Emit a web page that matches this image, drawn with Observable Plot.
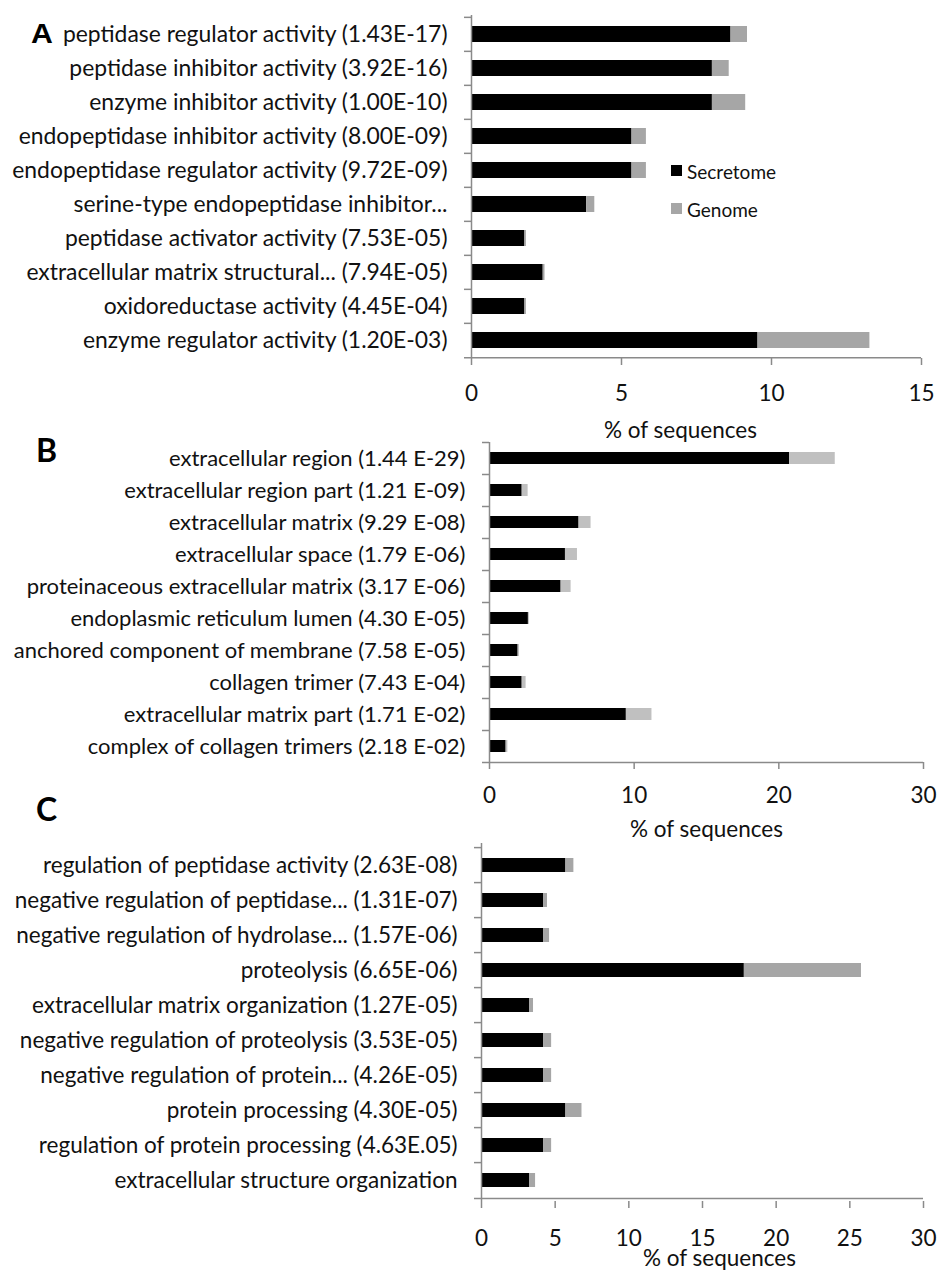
<!DOCTYPE html>
<html>
<head>
<meta charset="utf-8">
<script src="https://cdn.jsdelivr.net/npm/d3@7"></script>
<script src="https://cdn.jsdelivr.net/npm/@observablehq/plot@0.6"></script>
<style>
  html, body { margin: 0; padding: 0; background: #fff; }
  #root { position: relative; width: 937px; height: 1270px; overflow: hidden; font-family: Lato, "Open Sans", sans-serif; }
  .panel { position: absolute; left: 0; }
  .letter { position: absolute; font-weight: bold; line-height: 1; color: #000; transform-origin: 0 0; }
  .leg { position: absolute; font-family: Lato, sans-serif; font-size: 19px; color: #111; line-height: 1; }
  .sw { position: absolute; }
</style>
</head>
<body>
<div id="root"></div>
<script>
// ---------- Data ----------
const seriesNames = ["Secretome", "Genome"];

const catsA = [
  "peptidase regulator activity (1.43E-17)",
  "peptidase inhibitor activity (3.92E-16)",
  "enzyme inhibitor activity (1.00E-10)",
  "endopeptidase inhibitor activity (8.00E-09)",
  "endopeptidase regulator activity (9.72E-09)",
  "serine-type endopeptidase inhibitor...",
  "peptidase activator activity (7.53E-05)",
  "extracellular matrix structural... (7.94E-05)",
  "oxidoreductase activity (4.45E-04)",
  "enzyme regulator activity (1.20E-03)"
];
const secA = [8.65, 8.03, 8.03, 5.35, 5.35, 3.84, 1.78, 2.39, 1.78, 9.55];
const genA = [0.55, 0.56, 1.11, 0.48, 0.48, 0.27, 0.05, 0.06, 0.05, 3.73];
const ticksA = [0, 5, 10, 15];

const catsB = [
  "extracellular region (1.44 E-29)",
  "extracellular region part (1.21 E-09)",
  "extracellular matrix (9.29 E-08)",
  "extracellular space (1.79 E-06)",
  "proteinaceous extracellular matrix (3.17 E-06)",
  "endoplasmic reticulum lumen (4.30 E-05)",
  "anchored component of membrane (7.58 E-05)",
  "collagen trimer (7.43 E-04)",
  "extracellular matrix part (1.71 E-02)",
  "complex of collagen trimers (2.18 E-02)"
];
const secB = [20.74, 2.26, 6.19, 5.25, 4.95, 2.69, 1.98, 2.26, 9.46, 1.15];
const genB = [3.16, 0.41, 0.83, 0.83, 0.69, 0.07, 0.09, 0.27, 1.77, 0.12];
const ticksB = [0, 10, 20, 30];

const catsC = [
  "regulation of peptidase activity (2.63E-08)",
  "negative regulation of peptidase... (1.31E-07)",
  "negative regulation of hydrolase... (1.57E-06)",
  "proteolysis (6.65E-06)",
  "extracellular matrix organization (1.27E-05)",
  "negative regulation of proteolysis (3.53E-05)",
  "negative regulation of protein... (4.26E-05)",
  "protein processing (4.30E-05)",
  "regulation of protein processing (4.63E.05)",
  "extracellular structure organization"
];
const secC = [5.73, 4.21, 4.21, 17.84, 3.26, 4.21, 4.21, 5.73, 4.21, 3.26];
const genC = [0.54, 0.27, 0.41, 7.95, 0.27, 0.55, 0.55, 1.09, 0.55, 0.41];
const ticksC = [0, 5, 10, 15, 20, 25, 30];

const axisLabel = "% of sequences";

// ---------- Panel builder ----------
function panel(o) {
  const rows = [];
  o.cats.forEach((c, i) => {
    rows.push({cat: c, series: seriesNames[0], value: o.sec[i]});
    rows.push({cat: c, series: seriesNames[1], value: o.gen[i]});
  });
  const n = o.cats.length;
  const step = (o.height - o.mt - o.mb) / n;
  const axisColor = "#8a8a8a";
  const xmax = o.ticks[o.ticks.length - 1];
  const FS = o.fs;
  return Plot.plot({
    width: 937,
    height: o.height,
    marginTop: o.mt,
    marginBottom: o.mb,
    marginLeft: o.ml,
    marginRight: o.mr,
    style: {fontFamily: "Lato, 'Open Sans', sans-serif", fontSize: FS + "px", background: "transparent", overflow: "visible"},
    x: {domain: [0, xmax]},
    y: {domain: o.cats, paddingInner: o.pad, paddingOuter: o.pad / 2},
    color: {domain: seriesNames, range: ["#000000", o.grey]},
    marks: [
      Plot.barX(rows, {x: "value", y: "cat", fill: "series"}),
      Plot.ruleX([0], {stroke: axisColor, strokeWidth: 1.5}),
      Plot.ruleY(o.cats, {y: d => d, x1: 0, x2: 0, insetLeft: -7, dy: -step / 2, stroke: axisColor, strokeWidth: 1.5}),
      Plot.ruleY([o.cats[n - 1]], {y: d => d, x1: 0, x2: xmax, insetLeft: -7, dy: step / 2, stroke: axisColor, strokeWidth: 1.5}),
      Plot.axisX({ticks: o.ticks, tickSize: 7, tickPadding: o.tp, stroke: axisColor, strokeWidth: 1.5, fill: "#111", fontSize: 22.5, label: null}),
      Plot.axisY({tickSize: 0, tickPadding: 24, fill: "#111", fontSize: FS, label: null}),
      Plot.text([axisLabel], {frameAnchor: "bottom", lineAnchor: "middle", dy: o.ldy, dx: o.ldx, fill: "#111", fontSize: 22.5})
    ]
  });
}

const root = document.getElementById("root");
function place(node, top) {
  node.classList.add("panel");
  node.style.top = top + "px";
  root.appendChild(node);
}

place(panel({cats: catsA, sec: secA, gen: genA, ticks: ticksA, grey: "#a6a6a6", fs: 22.9,
  height: 445, mt: 15, mb: 87, ml: 471, mr: 16, pad: 0.54, tp: 20, ldy: 72, ldx: -16}), 0);
place(panel({cats: catsB, sec: secB, gen: genB, ticks: ticksB, grey: "#c0c0c0", fs: 22,
  height: 410, mt: 12, mb: 78, ml: 489, mr: 14, pad: 0.61, tp: 18, ldy: 67, ldx: 0}), 430);
place(panel({cats: catsC, sec: secC, gen: genC, ticks: ticksC, grey: "#a6a6a6", fs: 22.5,
  height: 440, mt: 13, mb: 69, ml: 481, mr: 14, pad: 0.6, tp: 22, ldy: 57.5, ldx: 17}), 830);

// Panel letters
[["A", 31, 20, "'Liberation Sans', Arial, sans-serif", 28, 1.08],
 ["B", 36, 433.6, "Lato, sans-serif", 32, 1],
 ["C", 36, 792.6, "Lato, sans-serif", 32, 1]].forEach(([t, x, y, ff, fs, sx]) => {
  const d = document.createElement("div");
  d.className = "letter"; d.textContent = t;
  d.style.left = x + "px"; d.style.top = y + "px";
  d.style.fontFamily = ff; d.style.fontSize = fs + "px";
  d.style.transform = `scaleX(${sx})`;
  root.appendChild(d);
});

// Legend for panel A
[[seriesNames[0], "#000000", 165, 162], [seriesNames[1], "#a6a6a6", 203, 200.4]].forEach(([t, c, y, ty]) => {
  const s = document.createElement("div");
  s.className = "sw";
  s.style.cssText = `left:671px;top:${y}px;width:11px;height:11px;background:${c};`;
  root.appendChild(s);
  const l = document.createElement("div");
  l.className = "leg"; l.textContent = t;
  l.style.left = "687px"; l.style.top = ty + "px";
  root.appendChild(l);
});
</script>
</body>
</html>
